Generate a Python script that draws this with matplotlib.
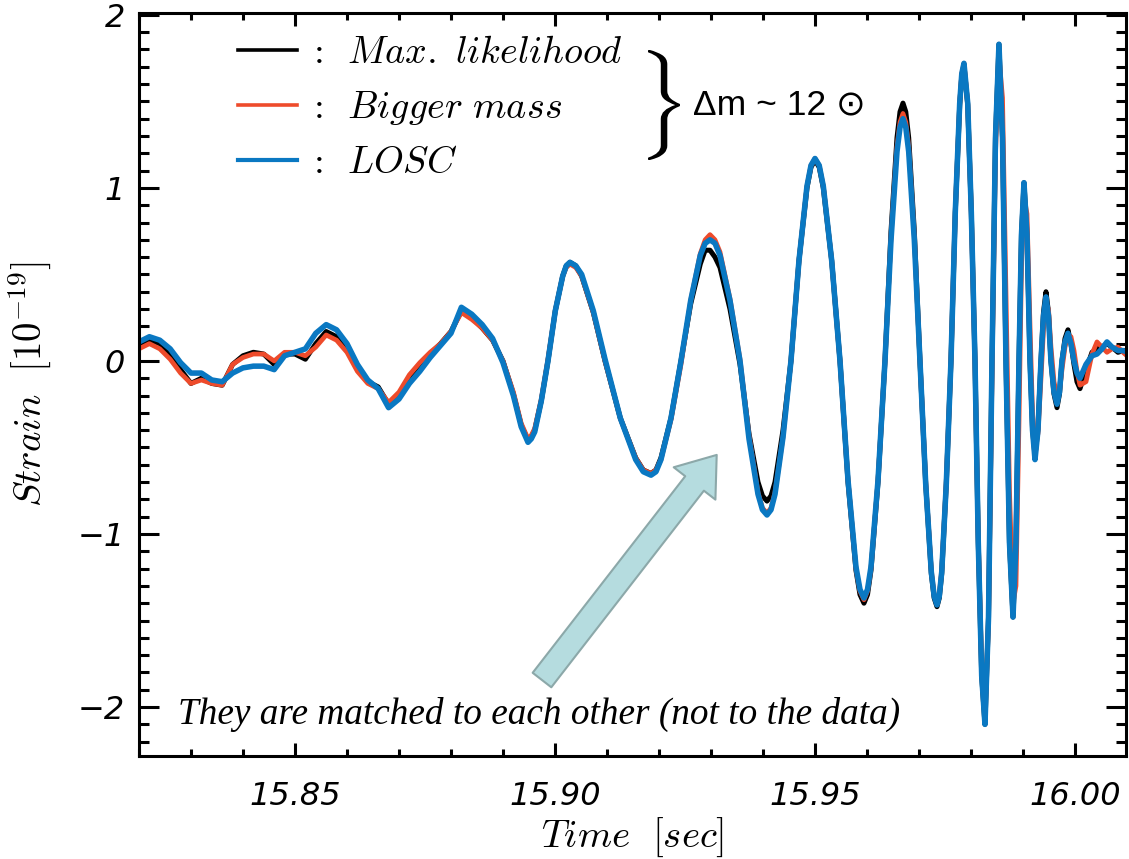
import matplotlib
matplotlib.use("Agg")
import matplotlib.pyplot as plt
import matplotlib.transforms as mtransforms
from matplotlib.lines import Line2D
from matplotlib.patches import FancyArrowPatch, PathPatch
from matplotlib.textpath import TextPath
from matplotlib.ticker import FormatStrFormatter, MultipleLocator

plt.rcParams["mathtext.fontset"] = "cm"

# ── data: time [s], strain [1e-19] ─────────────────────────────────────
time_s = [
    15.820, 15.822, 15.824, 15.826, 15.828, 15.830, 15.832, 15.834, 15.836, 15.838,
    15.840, 15.842, 15.844, 15.846, 15.848, 15.850, 15.852, 15.854, 15.856, 15.858,
    15.860, 15.862, 15.864, 15.866, 15.868, 15.870, 15.872, 15.874, 15.876, 15.878,
    15.880, 15.882, 15.884, 15.886, 15.888, 15.890, 15.892, 15.8935,
    15.89481, 15.89544, 15.89610, 15.89737, 15.89865, 15.90006, 15.90148, 15.90217, 15.90288, 15.90400,
    15.90513, 15.90737, 15.90962, 15.91256, 15.91552, 15.91698, 15.91846, 15.91942, 15.92038, 15.92231,
    15.92423, 15.92610, 15.92794, 15.92888, 15.92981, 15.93077, 15.93173, 15.93365, 15.93558, 15.93731,
    15.93904, 15.93990, 15.94077, 15.94154, 15.94231, 15.94385, 15.94538, 15.94692, 15.94846, 15.94923,
    15.95000, 15.95081, 15.95160, 15.95321, 15.95481, 15.95635, 15.95788, 15.95865, 15.95942, 15.96010,
    15.96077, 15.96212, 15.96346, 15.96462, 15.96577, 15.96635, 15.96692, 15.96746, 15.96802, 15.96910,
    15.97019, 15.97129, 15.97237, 15.97292, 15.97346, 15.97390, 15.97437, 15.97525, 15.97615, 15.97698,
    15.97783, 15.97823, 15.97865, 15.97937, 15.98006, 15.98077, 15.98140, 15.98206, 15.98269, 15.98337,
    15.98404, 15.98471, 15.98538, 15.98606, 15.98673, 15.98740, 15.98808, 15.98865, 15.98923, 15.98971,
    15.99019, 15.99077, 15.99135, 15.99183, 15.99231, 15.99288, 15.99346, 15.99394, 15.99442, 15.99490,
    15.99538, 15.99596, 15.99654, 15.99702, 15.99750, 15.99808, 15.99865, 15.99923, 15.99981, 16.00038,
    16.00096, 16.00212, 16.00327, 16.00423, 16.00519, 16.00615, 16.00712, 16.00827, 16.00923, 16.01038,
]

h_maxlike = [
    0.09, 0.12, 0.10, 0.04, -0.05, -0.13, -0.10, -0.13, -0.14, -0.02,
    0.03, 0.05, 0.04, -0.02, 0.04, 0.04, 0.01, 0.10, 0.17, 0.14,
    0.07, -0.04, -0.12, -0.15, -0.25, -0.21, -0.11, -0.04, 0.04, 0.10,
    0.17, 0.29, 0.25, 0.19, 0.12, 0.00, -0.19, -0.37,
    -0.46, -0.44, -0.40, -0.23, 0.00, 0.29, 0.49, 0.55, 0.57, 0.55,
    0.49, 0.28, 0.00, -0.33, -0.56, -0.63, -0.65, -0.63, -0.56, -0.33,
    0.00, 0.33, 0.56, 0.64, 0.64, 0.60, 0.54, 0.30, -0.02, -0.42,
    -0.70, -0.78, -0.81, -0.78, -0.70, -0.40, 0.00, 0.58, 1.00, 1.12,
    1.16, 1.12, 1.00, 0.58, 0.00, -0.70, -1.21, -1.35, -1.40, -1.35,
    -1.21, -0.70, 0.00, 0.75, 1.29, 1.44, 1.49, 1.44, 1.29, 0.75,
    0.00, -0.71, -1.23, -1.37, -1.42, -1.37, -1.23, -0.71, 0.00, 0.86,
    1.48, 1.65, 1.71, 1.48, 0.86, 0.00, -1.05, -1.82, -2.10, -1.48,
    0.00, 1.29, 1.83, 1.29, 0.00, -1.05, -1.48, -1.05, 0.00, 0.73,
    1.03, 0.73, 0.00, -0.39, -0.55, -0.39, 0.00, 0.28, 0.40, 0.28,
    0.00, -0.19, -0.27, -0.19, 0.00, 0.13, 0.18, 0.10, -0.02, -0.12,
    -0.16, -0.05, 0.05, 0.07, 0.08, 0.10, 0.08, 0.05, 0.06, 0.06,
]

h_bigmass = [
    0.07, 0.10, 0.07, 0.01, -0.07, -0.13, -0.11, -0.13, -0.14, -0.02,
    0.02, 0.04, 0.04, 0.00, 0.05, 0.05, 0.03, 0.08, 0.15, 0.12,
    0.05, -0.06, -0.13, -0.16, -0.24, -0.18, -0.08, -0.01, 0.05, 0.10,
    0.17, 0.28, 0.24, 0.19, 0.12, 0.00, -0.18, -0.36,
    -0.45, -0.43, -0.39, -0.22, 0.01, 0.29, 0.49, 0.54, 0.56, 0.54,
    0.49, 0.28, 0.00, -0.33, -0.56, -0.63, -0.65, -0.63, -0.57, -0.34,
    -0.02, 0.35, 0.62, 0.70, 0.73, 0.70, 0.63, 0.36, 0.01, -0.43,
    -0.76, -0.85, -0.88, -0.85, -0.76, -0.44, 0.00, 0.58, 1.01, 1.13,
    1.17, 1.13, 1.01, 0.58, 0.00, -0.69, -1.20, -1.33, -1.38, -1.33,
    -1.20, -0.69, 0.00, 0.72, 1.24, 1.38, 1.43, 1.38, 1.24, 0.72,
    0.00, -0.70, -1.21, -1.35, -1.40, -1.35, -1.21, -0.70, 0.00, 0.86,
    1.49, 1.66, 1.72, 1.49, 0.86, 0.00, -1.03, -1.78, -2.05, -1.50,
    -0.10, 1.20, 1.76, 1.52, 0.40, -0.75, -1.40, -1.30, -0.35, 0.55,
    0.95, 0.85, 0.20, -0.30, -0.48, -0.42, -0.10, 0.18, 0.33, 0.30,
    0.08, -0.12, -0.20, -0.18, -0.05, 0.08, 0.15, 0.14, 0.06, -0.06,
    -0.14, -0.12, 0.04, 0.11, 0.08, 0.05, 0.07, 0.08, 0.05, 0.02,
]

h_losc = [
    0.11, 0.14, 0.12, 0.07, -0.01, -0.07, -0.07, -0.11, -0.12, -0.07,
    -0.04, -0.03, -0.03, -0.05, 0.03, 0.05, 0.07, 0.16, 0.21, 0.18,
    0.10, -0.02, -0.11, -0.16, -0.27, -0.22, -0.13, -0.06, 0.02, 0.09,
    0.16, 0.31, 0.27, 0.21, 0.13, -0.01, -0.20, -0.38,
    -0.47, -0.45, -0.41, -0.23, 0.00, 0.29, 0.49, 0.55, 0.57, 0.55,
    0.50, 0.29, 0.01, -0.33, -0.57, -0.64, -0.66, -0.64, -0.57, -0.33,
    0.00, 0.35, 0.61, 0.68, 0.70, 0.68, 0.61, 0.35, 0.00, -0.45,
    -0.77, -0.86, -0.89, -0.86, -0.77, -0.44, 0.00, 0.58, 1.01, 1.13,
    1.17, 1.13, 1.01, 0.58, 0.00, -0.69, -1.19, -1.32, -1.37, -1.32,
    -1.19, -0.69, 0.00, 0.70, 1.21, 1.35, 1.40, 1.35, 1.21, 0.70,
    0.00, -0.71, -1.22, -1.36, -1.41, -1.36, -1.22, -0.71, 0.00, 0.86,
    1.49, 1.66, 1.72, 1.49, 0.86, 0.00, -1.05, -1.82, -2.10, -1.48,
    0.00, 1.29, 1.83, 1.29, 0.00, -1.05, -1.48, -1.05, 0.00, 0.73,
    1.03, 0.73, 0.00, -0.40, -0.57, -0.40, 0.00, 0.26, 0.37, 0.26,
    0.00, -0.18, -0.25, -0.18, 0.00, 0.11, 0.16, 0.10, 0.00, -0.07,
    -0.10, -0.02, 0.03, 0.04, 0.07, 0.11, 0.08, 0.06, 0.06, 0.05,
]

series_labels = [r"$:\ \,Max.\ likelihood$", r"$:\ \,Bigger\ mass$", r"$:\ \,LOSC$"]
series_colors = ["#000000", "#EE4B2B", "#0A78C2"]

# ── figure ─────────────────────────────────────────────────────────────
fig = plt.figure(figsize=(11.29, 8.59), dpi=100)
ax = fig.add_axes([0.1231, 0.1199, 0.8742, 0.8652])

ax.plot(time_s, h_maxlike, color=series_colors[0], lw=3.6, solid_joinstyle="round")
ax.plot(time_s, h_bigmass, color=series_colors[1], lw=3.4, solid_joinstyle="round")
ax.plot(time_s, h_losc, color=series_colors[2], lw=4.0, solid_joinstyle="round")

ax.set_xlim(15.82, 16.0098)
ax.set_ylim(-2.283, 2.012)
ax.xaxis.set_major_locator(MultipleLocator(0.05))
ax.xaxis.set_minor_locator(MultipleLocator(0.01))
ax.xaxis.set_major_formatter(FormatStrFormatter("%.2f"))
ax.yaxis.set_major_locator(MultipleLocator(1))
ax.yaxis.set_minor_locator(MultipleLocator(0.1))

ax.tick_params(which="both", direction="in", top=True, right=True, width=2.2,
               labelsize=23)
ax.tick_params(axis="x", which="major", length=9.4, pad=18)
ax.tick_params(axis="x", which="minor", length=5)
ax.tick_params(axis="y", which="major", length=14.4, pad=10)
ax.tick_params(axis="y", which="minor", length=7.2)
for lab in ax.get_xticklabels() + ax.get_yticklabels():
    lab.set_fontstyle("italic")
for sp in ax.spines.values():
    sp.set_linewidth(2.2)

ax.set_xlabel(r"$Time\ \ [sec]$", fontsize=28, va="center")
ax.set_ylabel(r"$Strain\ \ [10^{-19}]$", fontsize=28, va="center")
ax.xaxis.set_label_coords(0.5, -0.11)
ax.yaxis.set_label_coords(-0.111, 0.5)

# legend
handles = [Line2D([], [], color=c, lw=w) for c, w in zip(series_colors, [2.6, 2.6, 3.0])]
ax.legend(handles, series_labels, loc="upper left",
          bbox_to_anchor=(238 / 1129, 1 - 35 / 859), bbox_transform=fig.transFigure,
          frameon=False, fontsize=27.5, handlelength=1.55, handletextpad=0.26,
          labelspacing=0.47, borderpad=0, borderaxespad=0)

# brace + mass difference note
brace = TextPath((0, 0), r"$\}$", size=1)
bb = brace.get_extents()
brace_tr = (mtransforms.Affine2D()
            .translate(-bb.x0, -bb.y0)
            .scale(0.32 / bb.width, 1.10 / bb.height)
            .translate(6.48, 6.99)) + fig.dpi_scale_trans
fig.patches.append(PathPatch(brace, transform=brace_tr, color="black", lw=0))
fig.text(693 / 1129, 1 - 105 / 859, "Δm ~ 12 ⊙", fontsize=25.5,
         family=["Liberation Sans", "DejaVu Sans"], ha="left", va="center")

# arrow and remark
arrow = FancyArrowPatch((15.8975, -1.844), (15.9311, -0.543),
                        arrowstyle="simple,head_length=26,head_width=38,tail_width=17",
                        mutation_scale=1, shrinkA=0, shrinkB=0,
                        facecolor="#B5DCDF", edgecolor="#8CA8A9", lw=1.5)
ax.add_patch(arrow)
ax.text(15.8275, -2.04, "They are matched to each other (not to the data)",
        fontsize=26.8, family="Liberation Serif", style="italic", va="center", ha="left")

fig.savefig("out.png", dpi=100)
